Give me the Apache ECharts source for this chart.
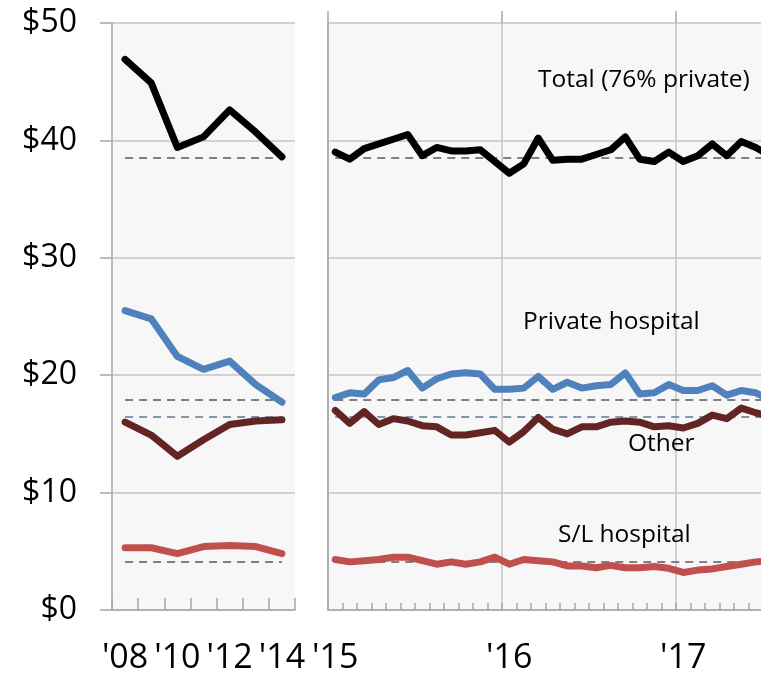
<!DOCTYPE html>
<html>
<head>
<meta charset="utf-8">
<script src="https://cdn.jsdelivr.net/npm/echarts@6/dist/echarts.min.js"></script>
<style>
  html, body { margin: 0; padding: 0; background: #fff; }
  #chart { width: 761px; height: 675px; }
</style>
</head>
<body>
<div id="chart"></div>
<script>
// 年度数据 2008-2014
const years = ['2008', '2009', '2010', '2011', '2012', '2013', '2014']
const totalAnnual = [46.9, 44.9, 39.4, 40.3, 42.6, 40.7, 38.6]
const privateAnnual = [25.5, 24.8, 21.6, 20.5, 21.2, 19.2, 17.7]
const otherAnnual = [16.0, 14.9, 13.1, 14.5, 15.8, 16.1, 16.2]
const slAnnual = [5.3, 5.3, 4.8, 5.4, 5.5, 5.4, 4.8]

// 月度数据 2015-01 起
const months = [
  '2015-01', '2015-02', '2015-03', '2015-04', '2015-05', '2015-06',
  '2015-07', '2015-08', '2015-09', '2015-10', '2015-11', '2015-12',
  '2016-01', '2016-02', '2016-03', '2016-04', '2016-05', '2016-06',
  '2016-07', '2016-08', '2016-09', '2016-10', '2016-11', '2016-12',
  '2017-01', '2017-02', '2017-03', '2017-04', '2017-05', '2017-06',
  '2017-07'
]
const totalMonthly = [39.0, 38.4, 39.3, 39.7, 40.1, 40.5, 38.7, 39.4, 39.1, 39.1, 39.2, 38.2,
  37.2, 38.0, 40.2, 38.3, 38.4, 38.4, 38.8, 39.2, 40.3, 38.4, 38.2, 39.0,
  38.2, 38.7, 39.7, 38.7, 39.9, 39.4, 38.7]
const privateMonthly = [18.1, 18.5, 18.4, 19.6, 19.8, 20.4, 18.9, 19.7, 20.1, 20.2, 20.1, 18.8,
  18.8, 18.9, 19.9, 18.8, 19.4, 18.9, 19.1, 19.2, 20.2, 18.4, 18.5, 19.2,
  18.7, 18.7, 19.1, 18.3, 18.7, 18.5, 17.9]
const otherMonthly = [17.0, 15.9, 16.9, 15.8, 16.3, 16.1, 15.7, 15.6, 14.9, 14.9, 15.1, 15.3,
  14.3, 15.2, 16.4, 15.4, 15.0, 15.6, 15.6, 16.0, 16.1, 16.0, 15.6, 15.7,
  15.5, 15.9, 16.6, 16.3, 17.2, 16.8, 16.5]
const slMonthly = [4.3, 4.1, 4.2, 4.3, 4.5, 4.5, 4.2, 3.9, 4.1, 3.9, 4.1, 4.5,
  3.9, 4.3, 4.2, 4.1, 3.75, 3.75, 3.6, 3.8, 3.6, 3.6, 3.7, 3.55,
  3.2, 3.4, 3.5, 3.7, 3.9, 4.1, 4.2]

// 参考线(虚线)
const refTotal = 38.5
const refPrivate = 17.9
const refOther = 16.5
const refSL = 4.1

const yTicks = [0, 10, 20, 30, 40, 50]

const FONT = 'Open Sans'
const GRID_COLOR = '#c4c4c4'
const AXIS_COLOR = '#a6a6a6'

function refLine(value, lastIndex, color) {
  return {
    silent: true,
    symbol: 'none',
    z: 1,
    label: { show: false },
    lineStyle: { type: [8, 6], width: 2, color: color },
    data: [[{ coord: [0, value] }, { coord: [lastIndex, value] }]]
  }
}

function lineSeries(name, data, color, axis, ref, refColor) {
  return {
    name: name,
    type: 'line',
    xAxisIndex: axis,
    yAxisIndex: axis,
    data: data,
    symbol: 'none',
    z: 3,
    lineStyle: { width: 7, color: color, cap: 'round', join: 'round' },
    markLine: refLine(ref, data.length - 1, refColor)
  }
}

const yAxisBase = {
  type: 'value',
  min: yTicks[0],
  max: yTicks[yTicks.length - 1],
  interval: 10,
  splitLine: { show: true, lineStyle: { color: GRID_COLOR, width: 1.5 } },
  axisLine: { show: true, lineStyle: { color: AXIS_COLOR, width: 1.5 } }
}

const xLabelStyle = { fontFamily: FONT, fontSize: 34, color: '#000' }
const yLabelStyle = { fontFamily: FONT, fontSize: 32, color: '#000' }
const noteFont = '24.5px "Open Sans"'

const option = {
  animation: false,
  grid: [
    { left: 112, top: 23, width: 183, height: 587, show: true, backgroundColor: '#f7f7f7', borderWidth: 0, outerBoundsMode: 'none' },
    { left: 328, top: 23, width: 449.5, height: 587, show: true, backgroundColor: '#f7f7f7', borderWidth: 0, outerBoundsMode: 'none' }
  ],
  xAxis: [
    {
      type: 'category',
      gridIndex: 0,
      data: years,
      boundaryGap: true,
      axisLine: { show: true, lineStyle: { color: AXIS_COLOR, width: 1.5 } },
      axisTick: { show: true, inside: true, length: 12, interval: 0, lineStyle: { color: AXIS_COLOR, width: 1.5 } },
      axisLabel: Object.assign({
        interval: 1,
        margin: 31,
        formatter: v => "'" + v.slice(2)
      }, xLabelStyle)
    },
    {
      type: 'category',
      gridIndex: 1,
      data: months,
      boundaryGap: true,
      axisLine: { show: true, lineStyle: { color: AXIS_COLOR, width: 1.5 } },
      axisTick: { show: true, inside: true, length: 7, interval: 0, lineStyle: { color: AXIS_COLOR, width: 1.5 } },
      splitLine: {
        show: true,
        interval: i => i % 12 === 0,
        lineStyle: { color: GRID_COLOR, width: 1.5 }
      },
      axisLabel: Object.assign({
        interval: i => i % 12 === 0,
        margin: 31,
        formatter: v => "'" + v.slice(2, 4)
      }, xLabelStyle)
    },
    {
      // 年份分隔的长刻度
      type: 'category',
      gridIndex: 1,
      data: months,
      boundaryGap: true,
      axisLine: { show: false },
      axisTick: { show: true, length: 12, interval: i => i % 12 === 0, lineStyle: { color: AXIS_COLOR, width: 1.5 } },
      axisLabel: { show: false }
    }
  ],
  yAxis: [
    Object.assign({}, yAxisBase, {
      gridIndex: 0,
      axisTick: { show: true, length: 12, lineStyle: { color: AXIS_COLOR, width: 1.5 } },
      axisLabel: Object.assign({
        margin: 35,
        formatter: v => '$' + v
      }, yLabelStyle)
    }),
    Object.assign({}, yAxisBase, {
      gridIndex: 1,
      axisTick: { show: false },
      axisLabel: { show: false }
    })
  ],
  series: [
    lineSeries('Total', totalAnnual, '#000000', 0, refTotal, '#808080'),
    lineSeries('Private hospital', privateAnnual, '#4f81bd', 0, refPrivate, '#808080'),
    lineSeries('Other', otherAnnual, '#632523', 0, refOther, '#8497b0'),
    lineSeries('S/L hospital', slAnnual, '#c0504d', 0, refSL, '#808080'),
    lineSeries('Total', totalMonthly, '#000000', 1, refTotal, '#808080'),
    lineSeries('Private hospital', privateMonthly, '#4f81bd', 1, refPrivate, '#808080'),
    lineSeries('Other', otherMonthly, '#632523', 1, refOther, '#8497b0'),
    lineSeries('S/L hospital', slMonthly, '#c0504d', 1, refSL, '#808080')
  ],
  graphic: [
    { type: 'text', left: 538, top: 68, z: 10, style: { text: 'Total (76% private)', font: noteFont, fill: '#000' } },
    { type: 'text', left: 523, top: 310, z: 10, style: { text: 'Private hospital', font: noteFont, fill: '#000' } },
    { type: 'text', left: 628, top: 432, z: 10, style: { text: 'Other', font: noteFont, fill: '#000' } },
    { type: 'text', left: 558, top: 523, z: 10, style: { text: 'S/L hospital', font: noteFont, fill: '#000' } }
  ]
}

const chart = echarts.init(document.getElementById('chart'))
chart.setOption(option)
</script>
</body>
</html>
